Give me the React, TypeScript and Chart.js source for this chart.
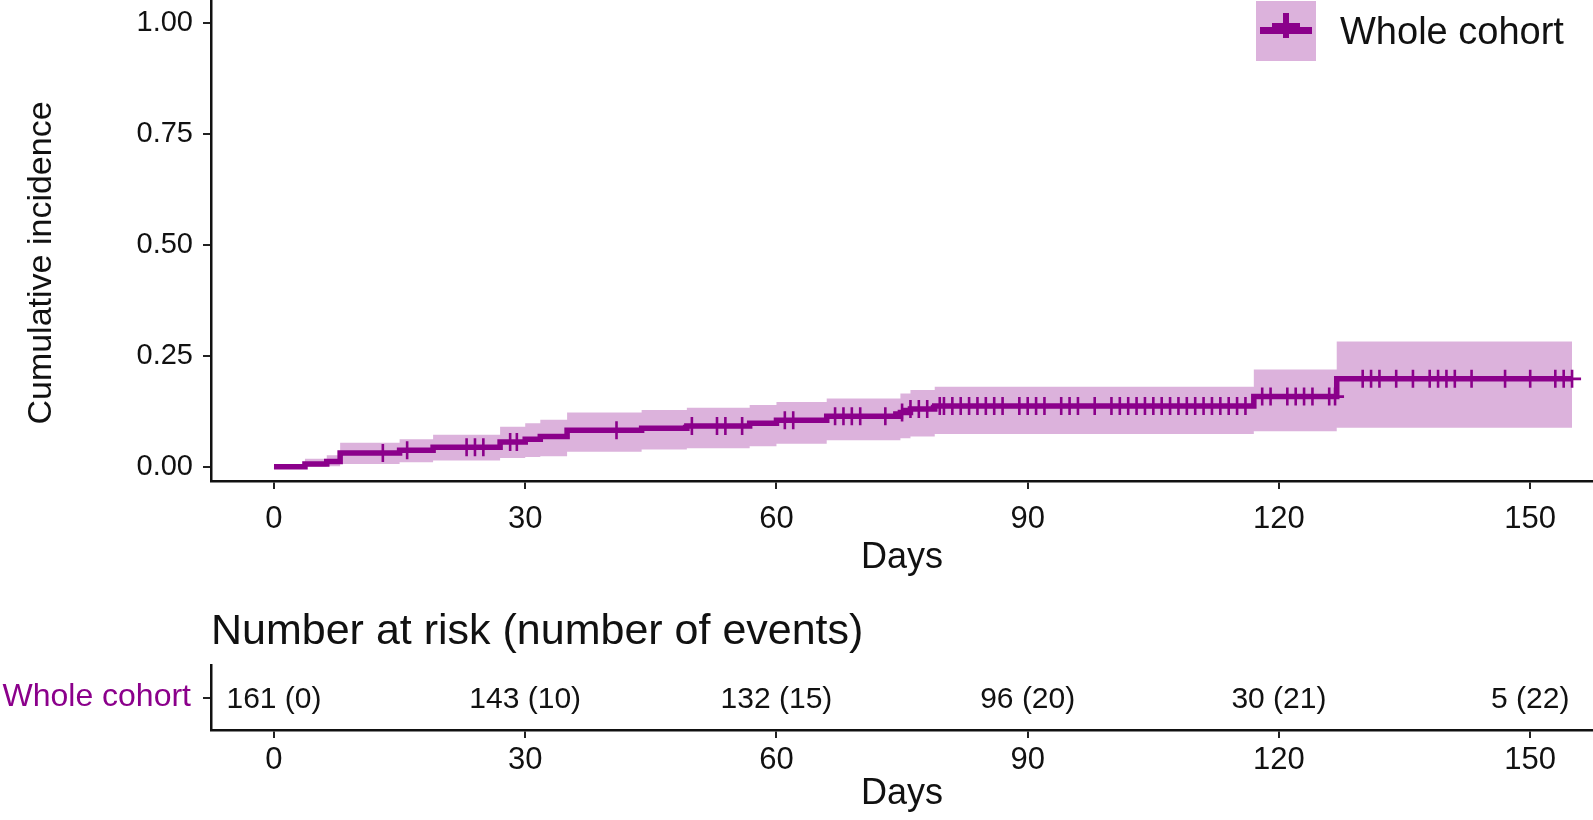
import React, { useEffect, useRef } from 'react';
import { Chart, registerables } from 'chart.js';

Chart.register(...registerables);

const FONT = '"Liberation Sans", Arial, Helvetica, sans-serif';
const PURPLE = '#8B008B';
const BAND = 'rgba(139, 0, 139, 0.3)';
const INK = '#111111';

const groupName = 'Whole cohort';

// Kaplan-Meier style cumulative incidence (step times, estimate, confidence band)
const stepTimes = [0, 3.7, 6.3, 7.9, 15.0, 19.0, 27.0, 30.0, 31.8, 35.0, 43.9, 49.3, 56.8, 60.0, 66.0, 74.8, 76.0, 78.9, 117.0, 126.9, 155.0];
const estimate = [0, 0.006, 0.012, 0.031, 0.037, 0.044, 0.056, 0.062, 0.068, 0.082, 0.087, 0.092, 0.098, 0.105, 0.114, 0.122, 0.130, 0.137, 0.158, 0.198, 0.198];
const lowerCI = [0, 0, 0.001, 0.006, 0.010, 0.014, 0.020, 0.022, 0.024, 0.034, 0.039, 0.042, 0.046, 0.052, 0.060, 0.064, 0.068, 0.074, 0.080, 0.088, 0.088];
const upperCI = [0, 0.018, 0.026, 0.054, 0.062, 0.072, 0.090, 0.098, 0.106, 0.122, 0.128, 0.133, 0.139, 0.146, 0.154, 0.165, 0.173, 0.180, 0.219, 0.282, 0.282];

// censoring times (+ marks)
const censorTimes = [
  13.0, 15.9, 23.0, 24.0, 25.0, 28.2, 29.0, 40.9, 49.9, 52.9, 53.9, 55.9,
  61.0, 62.0, 67.0, 68.0, 69.0, 70.0, 73.0, 75.0, 76.0, 77.0, 78.0, 79.5,
  80, 81, 82, 83, 84, 85, 86, 87, 89, 90, 91, 92, 94, 95, 96, 98,
  100, 101, 102, 103, 104, 105, 106, 107, 108, 109, 110, 111, 112, 113, 114, 115, 116,
  118, 119, 121, 122, 123, 124, 126, 126.7, 130, 131, 132, 134, 136, 138, 139, 140, 141,
  143, 147, 150, 153, 154, 155,
];

// risk table
const riskTimes = [0, 30, 60, 90, 120, 150];
const atRisk = [161, 143, 132, 96, 30, 5];
const eventsCount = [0, 10, 15, 20, 21, 22];

const xTicks = [0, 30, 60, 90, 120, 150];
const yTicks = [0, 0.25, 0.5, 0.75, 1];

const X_MIN = -7.52;
const X_MAX = 157.5;
const Y_MIN = -0.032;
const Y_MAX = 1.051;

function estimateAt(t: number): number {
  let v = estimate[0];
  for (let i = 0; i < stepTimes.length; i++) {
    if (stepTimes[i] <= t) v = estimate[i];
  }
  return v;
}

const legendPlugin = {
  id: 'kmLegend',
  afterDraw(chart: any) {
    const ctx = chart.ctx;
    const x0 = 1256;
    const y0 = 1;
    const w = 60;
    const h = 60;
    ctx.save();
    ctx.fillStyle = BAND;
    ctx.fillRect(x0, y0, w, h);
    ctx.strokeStyle = PURPLE;
    ctx.lineWidth = 7;
    ctx.beginPath();
    ctx.moveTo(x0 + 4, 30.5);
    ctx.lineTo(x0 + w - 4, 30.5);
    ctx.stroke();
    ctx.lineWidth = 6;
    ctx.beginPath();
    ctx.moveTo(x0 + w / 2, 13);
    ctx.lineTo(x0 + w / 2, 38);
    ctx.stroke();
    ctx.lineWidth = 4;
    ctx.beginPath();
    ctx.moveTo(x0 + 16, 25);
    ctx.lineTo(x0 + w - 16, 25);
    ctx.stroke();
    ctx.font = `38px ${FONT}`;
    ctx.fillStyle = INK;
    ctx.textAlign = 'left';
    ctx.textBaseline = 'alphabetic';
    ctx.fillText(groupName, 1340, 44);
    ctx.restore();
  },
};

const yTitlePlugin = {
  id: 'yTitle',
  afterDraw(chart: any) {
    const ctx = chart.ctx;
    ctx.save();
    ctx.translate(42, 263);
    ctx.rotate(-Math.PI / 2);
    ctx.font = `34px ${FONT}`;
    ctx.fillStyle = INK;
    ctx.textAlign = 'center';
    ctx.textBaseline = 'middle';
    ctx.fillText('Cumulative incidence', 0, 0);
    ctx.restore();
  },
};

const riskLabelPlugin = {
  id: 'riskLabels',
  afterDatasetsDraw(chart: any) {
    const ctx = chart.ctx;
    const meta = chart.getDatasetMeta(0);
    ctx.save();
    ctx.font = `30px ${FONT}`;
    ctx.fillStyle = INK;
    ctx.textAlign = 'center';
    ctx.textBaseline = 'middle';
    meta.data.forEach((pt: any, i: number) => {
      ctx.fillText(`${atRisk[i]} (${eventsCount[i]})`, pt.x, pt.y + 2);
    });
    ctx.restore();
  },
};

const riskTitlePlugin = {
  id: 'riskTitle',
  afterDraw(chart: any) {
    const ctx = chart.ctx;
    ctx.save();
    ctx.font = `43px ${FONT}`;
    ctx.fillStyle = INK;
    ctx.textAlign = 'left';
    ctx.textBaseline = 'middle';
    ctx.fillText('Number at risk (number of events)', chart.chartArea.left, 42);
    ctx.restore();
  },
};

function zeroPad(s: any) {
  s.paddingTop = 0;
  s.paddingBottom = 0;
  s.paddingLeft = 0;
  s.paddingRight = 0;
}

function xScaleOptions(height: number, tickPad: number, titlePadBottom: number) {
  return {
    type: 'linear' as const,
    min: X_MIN,
    max: X_MAX,
    afterBuildTicks: (s: any) => {
      s.ticks = xTicks.map((v) => ({ value: v }));
    },
    afterFit: (s: any) => {
      s.height = height;
      zeroPad(s);
    },
    grid: { drawOnChartArea: false, drawTicks: true, tickLength: 8, color: '#222', lineWidth: 2 },
    border: { display: true, color: '#111', width: 2.5 },
    ticks: {
      font: { family: FONT, size: 31 },
      color: INK,
      padding: tickPad,
      maxRotation: 0,
      autoSkip: false,
      callback: (v: any) => String(v),
    },
    title: {
      display: true,
      text: 'Days',
      font: { family: FONT, size: 36 },
      color: INK,
      padding: { top: 0, bottom: titlePadBottom },
    },
  };
}

export default function App() {
  const topRef = useRef<HTMLCanvasElement | null>(null);
  const botRef = useRef<HTMLCanvasElement | null>(null);

  useEffect(() => {
    const pts = (arr: number[]) => stepTimes.map((t, i) => ({ x: t, y: arr[i] }));
    const censorPts = censorTimes.map((t) => ({ x: t, y: estimateAt(t) }));

    const top = new Chart(topRef.current as HTMLCanvasElement, {
      type: 'line',
      data: {
        datasets: [
          {
            label: 'upper',
            data: pts(upperCI),
            stepped: 'before',
            borderWidth: 0,
            borderColor: 'rgba(0,0,0,0)',
            pointRadius: 0,
            backgroundColor: BAND,
            fill: '+1',
            order: 3,
          },
          {
            label: 'lower',
            data: pts(lowerCI),
            stepped: 'before',
            borderWidth: 0,
            borderColor: 'rgba(0,0,0,0)',
            pointRadius: 0,
            fill: false,
            order: 2,
          },
          {
            label: groupName,
            data: pts(estimate),
            stepped: 'before',
            borderColor: PURPLE,
            borderWidth: 5.5,
            pointRadius: 0,
            fill: false,
            order: 1,
          },
          {
            label: 'censored',
            data: censorPts,
            showLine: false,
            pointStyle: 'cross',
            pointRadius: 9,
            pointBorderWidth: 2.6,
            pointBorderColor: PURPLE,
            borderColor: PURPLE,
            fill: false,
            order: 0,
          },
        ],
      },
      options: {
        responsive: false,
        animation: false,
        events: [],
        layout: { autoPadding: false, padding: { left: 0, right: 0, top: 0, bottom: 0 } },
        plugins: { legend: { display: false }, tooltip: { enabled: false } },
        scales: {
          x: xScaleOptions(109, 12, 10),
          y: {
            type: 'linear',
            min: Y_MIN,
            max: Y_MAX,
            afterBuildTicks: (s: any) => {
              s.ticks = yTicks.map((v) => ({ value: v }));
            },
            afterFit: (s: any) => {
              s.width = 211;
              zeroPad(s);
            },
            grid: { drawOnChartArea: false, drawTicks: true, tickLength: 8, color: '#222', lineWidth: 2 },
            border: { display: true, color: '#111', width: 2.5 },
            ticks: {
              font: { family: FONT, size: 29 },
              color: INK,
              padding: 10,
              callback: (v: any) => Number(v).toFixed(2),
            },
            title: { display: false },
          },
        },
      },
      plugins: [legendPlugin, yTitlePlugin],
    } as any);

    const bottom = new Chart(botRef.current as HTMLCanvasElement, {
      type: 'line',
      data: {
        datasets: [
          {
            label: 'risk',
            data: riskTimes.map((t) => ({ x: t, y: groupName })),
            showLine: false,
            pointRadius: 0,
          },
        ],
      },
      options: {
        responsive: false,
        animation: false,
        events: [],
        layout: { autoPadding: false, padding: { left: 0, right: 0, top: 75, bottom: 0 } },
        plugins: { legend: { display: false }, tooltip: { enabled: false } },
        scales: {
          x: xScaleOptions(90, 4, 4),
          y: {
            type: 'category',
            labels: [groupName],
            offset: true,
            afterFit: (s: any) => {
              s.width = 211;
              zeroPad(s);
            },
            grid: { drawOnChartArea: false, drawTicks: true, tickLength: 8, color: '#222', lineWidth: 2, offset: false },
            border: { display: true, color: '#111', width: 2.5 },
            ticks: {
              font: { family: FONT, size: 32 },
              color: PURPLE,
              padding: 12,
            },
          },
        },
      },
      plugins: [riskLabelPlugin, riskTitlePlugin],
    } as any);

    return () => {
      top.destroy();
      bottom.destroy();
    };
  }, []);

  return (
    <div style={{ position: 'absolute', left: 0, top: 0, width: 1593, height: 820, background: '#fff' }}>
      <canvas
        ref={topRef}
        width={1593}
        height={590}
        style={{ position: 'absolute', left: 0, top: 0, width: 1593, height: 590 }}
      />
      <canvas
        ref={botRef}
        width={1593}
        height={230}
        style={{ position: 'absolute', left: 0, top: 590, width: 1593, height: 230 }}
      />
    </div>
  );
}
